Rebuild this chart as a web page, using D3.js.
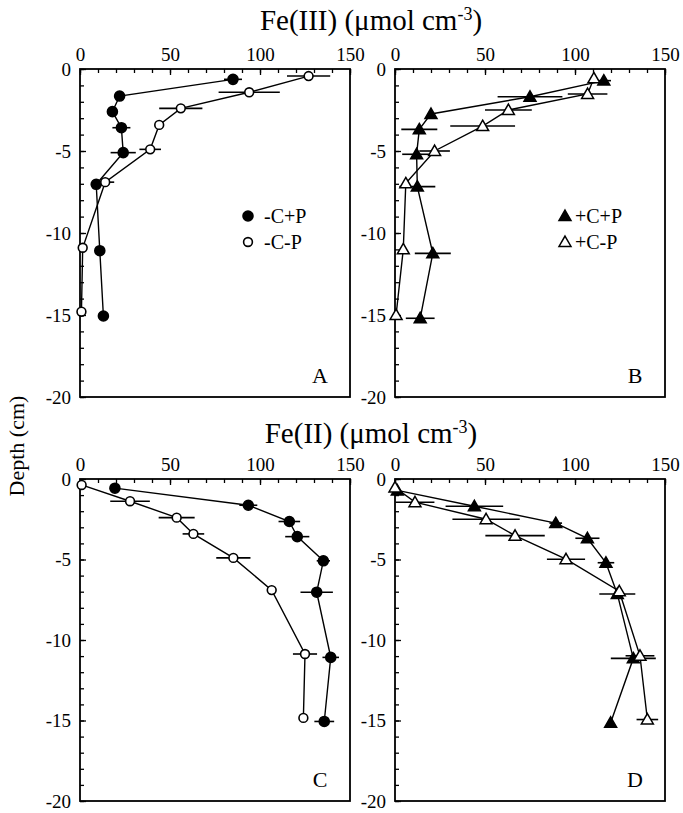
<!DOCTYPE html>
<html>
<head>
<meta charset="utf-8">
<script src="https://cdn.jsdelivr.net/npm/d3@7"></script>
<style>
  html, body { margin: 0; padding: 0; background: #fff; }
  svg { display: block; }
  text { font-family: "Liberation Serif", "Times New Roman", serif; fill: #000; }
</style>
</head>
<body>
<svg id="chart" width="683" height="813"></svg>
<script>
// ---- Data: depth (cm), concentration (µmol cm-3), horizontal error (±) ----
// Panel A: Fe(III), no carbon added
const aFilledDepth = [-0.63, -1.65, -2.6, -3.58, -5.1, -7.03, -11.08, -15.06];
const aFilledValue = [85, 22, 18, 23, 24, 9, 11, 13];
const aFilledErr   = [5, 0, 0, 5, 7, 0, 0, 3];
const aOpenDepth   = [-0.43, -1.42, -2.4, -3.41, -4.9, -6.9, -10.9, -14.8];
const aOpenValue   = [127, 94, 56, 44, 39, 14, 1.5, 0.8];
const aOpenErr     = [12, 17, 12, 0, 6, 5, 0, 0];

// Panel B: Fe(III), carbon added
const bFilledDepth = [-0.71, -1.69, -2.74, -3.68, -5.2, -7.17, -11.24, -15.2];
const bFilledValue = [116, 75, 20, 13.5, 12, 12.4, 21, 14];
const bFilledErr   = [4, 18, 0, 10, 8, 10, 10, 8];
const bOpenDepth   = [-0.57, -1.52, -2.5, -3.48, -5.0, -6.97, -11.0, -15.0];
const bOpenValue   = [110.5, 107, 63, 48.7, 22, 6, 4.6, 0.6];
const bOpenErr     = [0, 11, 13, 18, 8.5, 0, 0, 0];

// Panel C: Fe(II), no carbon added
const cFilledDepth = [-0.57, -1.63, -2.64, -3.58, -5.08, -7.03, -11.08, -15.06];
const cFilledValue = [19.4, 93.5, 116.3, 120.7, 135.2, 131.5, 139.3, 135.7];
const cFilledErr   = [0, 5, 6, 6.7, 3.7, 9, 4.6, 5.5];
const cOpenDepth   = [-0.37, -1.38, -2.4, -3.41, -4.9, -6.9, -10.87, -14.84];
const cOpenValue   = [0.9, 27.8, 53.7, 63, 85.2, 106.5, 125, 124.1];
const cOpenErr     = [0, 11, 10, 6, 9.5, 0, 6.7, 0];

// Panel D: Fe(II), carbon added
const dFilledDepth = [-0.71, -1.69, -2.74, -3.68, -5.2, -7.14, -11.14, -15.14];
const dFilledValue = [1.3, 44.1, 89.3, 106.9, 117.2, 123.5, 132.4, 119.8];
const dFilledErr   = [0, 16, 3.5, 6.7, 4.6, 10, 12.5, 0];
const dOpenDepth   = [-0.53, -1.44, -2.5, -3.52, -4.98, -6.97, -10.98, -14.94];
const dOpenValue   = [0, 11.1, 50.6, 66.7, 95, 124.6, 136.1, 140.2];
const dOpenErr     = [0, 10.8, 18.7, 16.5, 10.6, 0, 8, 6];

// Axis ticks
const xMajorTicks = [0, 50, 100, 150];
const yMajorTicks = [0, -5, -10, -15, -20];
const panelLetters = ["A", "B", "C", "D"];
const legendA = ["-C+P", "-C-P"];
const legendB = ["+C+P", "+C-P"];

// ---- Layout ----
const svg = d3.select("#chart");
const panelW = 270;
const colLeft = [80, 395];
const rowTop = [69, 479];
const rowH = [328, 322];

const zip = (dep, val, err) => dep.map((d, i) => ({ depth: d, value: val[i], err: err[i] }));

const panels = [
  { letter: panelLetters[0], col: 0, row: 0, marker: "circle",
    filled: zip(aFilledDepth, aFilledValue, aFilledErr), open: zip(aOpenDepth, aOpenValue, aOpenErr), legend: legendA },
  { letter: panelLetters[1], col: 1, row: 0, marker: "triangle",
    filled: zip(bFilledDepth, bFilledValue, bFilledErr), open: zip(bOpenDepth, bOpenValue, bOpenErr), legend: legendB },
  { letter: panelLetters[2], col: 0, row: 1, marker: "circle",
    filled: zip(cFilledDepth, cFilledValue, cFilledErr), open: zip(cOpenDepth, cOpenValue, cOpenErr) },
  { letter: panelLetters[3], col: 1, row: 1, marker: "triangle",
    filled: zip(dFilledDepth, dFilledValue, dFilledErr), open: zip(dOpenDepth, dOpenValue, dOpenErr) }
];

const triPath = d3.symbol().type(d3.symbolTriangle).size(62)();

function drawMarker(g, kind, filled, cx, cy) {
  if (kind === "circle") {
    g.append("circle").attr("cx", cx).attr("cy", cy).attr("r", filled ? 5 : 4.4)
      .attr("fill", filled ? "#000" : "#fff").attr("stroke", "#000").attr("stroke-width", 1.6);
  } else {
    g.append("path").attr("d", triPath).attr("transform", `translate(${cx},${cy + 1})`)
      .attr("fill", filled ? "#000" : "#fff").attr("stroke", "#000").attr("stroke-width", 1.5)
      .attr("stroke-linejoin", "miter");
  }
}

panels.forEach(p => {
  const left = colLeft[p.col], top = rowTop[p.row], panelH = rowH[p.row];
  const x = d3.scaleLinear().domain([0, 150]).range([left, left + panelW]);
  const y = d3.scaleLinear().domain([0, -20]).range([top, top + panelH]);
  const g = svg.append("g");

  // minor ticks (inward)
  g.append("g").attr("transform", `translate(0,${top})`)
    .call(d3.axisTop(x).tickValues(d3.range(0, 151, 10)).tickSize(-4).tickFormat(""))
    .call(s => s.select(".domain").remove())
    .call(s => s.selectAll("line").attr("stroke-width", 1.3));
  g.append("g").attr("transform", `translate(${left},0)`)
    .call(d3.axisLeft(y).tickValues(d3.range(0, -20.5, -1)).tickSize(-4).tickFormat(""))
    .call(s => s.select(".domain").remove())
    .call(s => s.selectAll("line").attr("stroke-width", 1.3));

  // major ticks with labels
  g.append("g").attr("transform", `translate(0,${top})`)
    .call(d3.axisTop(x).tickValues(xMajorTicks).tickSize(-6).tickPadding(8).tickFormat(d => String(d)))
    .call(s => s.select(".domain").remove())
    .call(s => s.selectAll("line").attr("stroke-width", 1.3))
    .call(s => s.selectAll("text").attr("font-size", 19).attr("font-family", "Liberation Serif"));
  g.append("g").attr("transform", `translate(${left},0)`)
    .call(d3.axisLeft(y).tickValues(yMajorTicks).tickSize(-6).tickPadding(9).tickFormat(d => String(d)))
    .call(s => s.select(".domain").remove())
    .call(s => s.selectAll("line").attr("stroke-width", 1.3))
    .call(s => s.selectAll("text").attr("font-size", 19).attr("font-family", "Liberation Serif"));

  // frame
  g.append("rect").attr("x", left).attr("y", top).attr("width", panelW).attr("height", panelH)
    .attr("fill", "none").attr("stroke", "#000").attr("stroke-width", 1.8);

  const line = d3.line().x(d => x(d.value)).y(d => y(d.depth));
  [p.filled, p.open].forEach(series => {
    g.append("path").datum(series).attr("d", line)
      .attr("fill", "none").attr("stroke", "#000").attr("stroke-width", 1.4);
  });

  // horizontal error bars
  [p.filled, p.open].forEach(series => {
    series.filter(d => d.err > 0).forEach(d => {
      g.append("line")
        .attr("x1", x(Math.max(0, d.value - d.err))).attr("x2", x(d.value + d.err))
        .attr("y1", y(d.depth)).attr("y2", y(d.depth))
        .attr("stroke", "#000").attr("stroke-width", 1.6);
    });
  });

  // markers
  p.filled.forEach(d => drawMarker(g, p.marker, true, x(d.value), y(d.depth)));
  p.open.forEach(d => drawMarker(g, p.marker, false, x(d.value), y(d.depth)));

  // legend
  if (p.legend) {
    const lx = p.marker === "circle" ? left + 168 : left + 170;
    const tx = p.marker === "circle" ? left + 184 : left + 180;
    [[true, 147], [false, 173]].forEach(([filled, dy], i) => {
      drawMarker(g, p.marker, filled, lx, top + dy);
      g.append("text").attr("x", tx).attr("y", top + dy + 7)
        .attr("font-size", 20).text(p.legend[i]);
    });
  }

  // panel letter
  g.append("text").attr("x", left + panelW - 30).attr("y", top + panelH - 14)
    .attr("text-anchor", "middle").attr("font-size", 22).text(p.letter);
});

// axis titles
function unitTitle(label, yPos) {
  const t = svg.append("text").attr("x", 371).attr("y", yPos)
    .attr("text-anchor", "middle").attr("font-size", 29);
  t.append("tspan").text(label + " (\u03bcmol cm");
  t.append("tspan").attr("baseline-shift", "super").attr("font-size", 18).text("-3");
  t.append("tspan").text(")");
}
unitTitle("Fe(III)", 30);
unitTitle("Fe(II)", 443);

svg.append("text")
  .attr("transform", "translate(24,446) rotate(-90)")
  .attr("text-anchor", "middle").attr("font-size", 22).text("Depth (cm)");
</script>
</body>
</html>
